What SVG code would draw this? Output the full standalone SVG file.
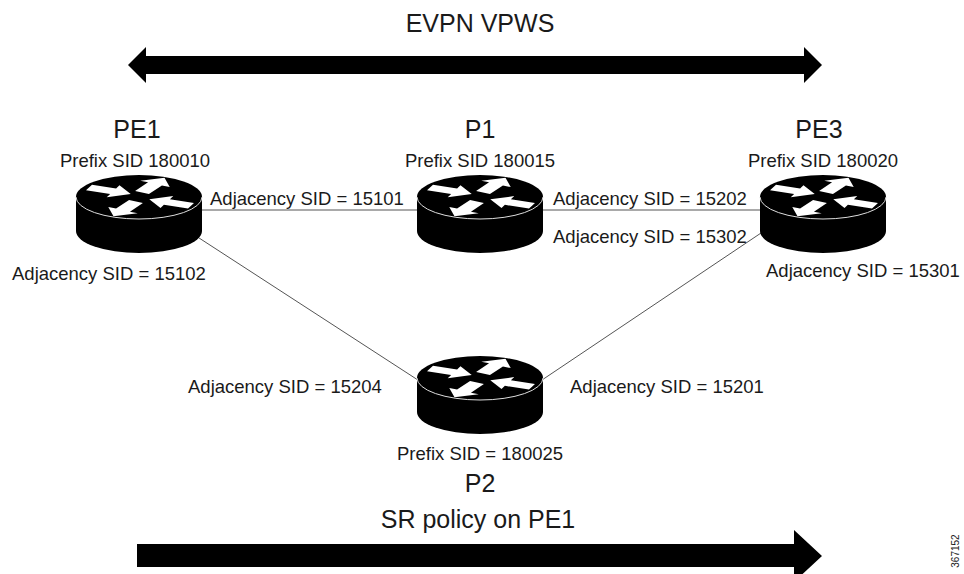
<svg xmlns="http://www.w3.org/2000/svg" xmlns:xlink="http://www.w3.org/1999/xlink" width="964" height="574" viewBox="0 0 964 574">
<style>
text{font-family:"Liberation Sans",Arial,sans-serif;fill:#1a1a1a}
.t{font-size:25px}
.l{font-size:18.5px}
.link{stroke:#555;stroke-width:1;fill:none}
</style>
<defs>
<polygon id="arr" points="0,-8 26,-8 26,-17 45,0 26,17 26,8 0,8" fill="#fff"/>
<g id="router">
<path d="M-63,0 L-63,34 A63,22 0 0 0 63,34 L63,0 Z" fill="#000"/>
<ellipse cx="0" cy="0" rx="63" ry="22" fill="#000"/>
<path d="M-63,0 A63,22 0 0 0 63,0" fill="none" stroke="#ddd" stroke-width="1"/>
<g transform="scale(1,0.38)">
<use xlink:href="#arr" transform="translate(-50,-25) rotate(22)"/>
<use xlink:href="#arr" transform="translate(52,23) rotate(202)"/>
<use xlink:href="#arr" transform="translate(3,-12) rotate(-60)"/>
<use xlink:href="#arr" transform="translate(-3,12) rotate(120)"/>
</g>
</g>
</defs>
<rect width="964" height="574" fill="#fff"/>
<g id="connectors">
<line class="link" x1="200" y1="210" x2="420" y2="210"/>
<line class="link" x1="540" y1="210" x2="760" y2="210"/>
<line class="link" x1="196" y1="236" x2="421" y2="382"/>
<line class="link" x1="539" y1="382" x2="764" y2="231"/>
</g>
<g id="evpn">
<polygon points="128,65 146,47 146,56 804,56 804,47 822,65 804,83 804,74 146,74 146,83" fill="#000"/>
<text class="t" x="480" y="32" text-anchor="middle">EVPN VPWS</text>
</g>
<g id="srpolicy">
<polygon points="137,544 794,544 794,530 822,556 794,582 794,567 137,567" fill="#000"/>
<text class="t" x="478" y="528" text-anchor="middle">SR policy on PE1</text>
</g>
<g id="PE1">
<use xlink:href="#router" transform="translate(139,197)"/>
<text class="t" x="137" y="138" text-anchor="middle">PE1</text>
<text class="l" x="135" y="167" text-anchor="middle">Prefix SID 180010</text>
</g>
<g id="P1">
<use xlink:href="#router" transform="translate(480,197)"/>
<text class="t" x="480" y="138" text-anchor="middle">P1</text>
<text class="l" x="480" y="167" text-anchor="middle">Prefix SID 180015</text>
</g>
<g id="PE3">
<use xlink:href="#router" transform="translate(823,197)"/>
<text class="t" x="819" y="138" text-anchor="middle">PE3</text>
<text class="l" x="823" y="167" text-anchor="middle">Prefix SID 180020</text>
</g>
<g id="P2">
<use xlink:href="#router" transform="translate(480,378)"/>
<text class="l" x="480" y="460" text-anchor="middle">Prefix SID = 180025</text>
<text class="t" x="480" y="492" text-anchor="middle">P2</text>
</g>
<g id="labels">
<text class="l" x="210" y="205">Adjacency SID = 15101</text>
<text class="l" x="553" y="205">Adjacency SID = 15202</text>
<text class="l" x="553" y="243">Adjacency SID = 15302</text>
<text class="l" x="12" y="280">Adjacency SID = 15102</text>
<text class="l" x="766" y="277">Adjacency SID = 15301</text>
<text class="l" x="188" y="393">Adjacency SID = 15204</text>
<text class="l" x="570" y="393">Adjacency SID = 15201</text>
<text x="959" y="551" font-size="10" fill="#555" text-anchor="middle" transform="rotate(-90 959 551)">367152</text>
</g>
</svg>
